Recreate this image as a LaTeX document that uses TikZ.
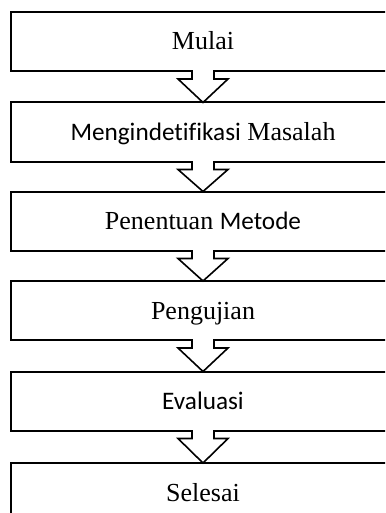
\documentclass[tikz,border=0pt]{standalone}
\usepackage{fontspec}
\setmainfont{Liberation Serif}
\newfontfamily\calfont[Ligatures=NoCommon,Scale=0.97]{Carlito}
\usetikzlibrary{calc}
\newcommand\flowarrowdraw[2]{%
  \fill[white] ($(#1.south)+(-10,-1.6)$) rectangle ($(#1.south)+(10,1.6)$);
  \draw[flowarrow] ($(#1.south)+(-11,0)$) -- ++(0,8) -- ++(-14,0) -- (#2.north)
    -- ($(#1.south)+(25,8)$) -- ++(-14,0) -- ++(0,-8);
}
\begin{document}
\begin{tikzpicture}[x=1pt,y=-1pt,
  box/.style={draw, line width=2pt, outer sep=0pt, minimum width=384pt,
    minimum height=59pt, anchor=north west, inner sep=0pt,
    text height=17pt, text depth=0pt, font=\fontsize{26}{30}\selectfont},
  flowarrow/.style={line width=1.6pt, line join=miter}]
\useasboundingbox (0,0) rectangle (385,513);
\clip (0,0) rectangle (385,513);
\node[box] (b1) at (11,12) {Mulai};
\node[box] (b2) at (11,102.5) {{\calfont Mengindetifikasi} Masalah};
\node[box] (b3) at (11,191.5) {Penentuan {\calfont Metode}};
\node[box] (b4) at (11,281) {Pengujian};
\node[box] (b5) at (11,371.5) {{\calfont Evaluasi}};
\node[box] (b6) at (11,463) {Selesai};
\flowarrowdraw{b1}{b2}
\flowarrowdraw{b2}{b3}
\flowarrowdraw{b3}{b4}
\flowarrowdraw{b4}{b5}
\flowarrowdraw{b5}{b6}
\end{tikzpicture}
\end{document}
